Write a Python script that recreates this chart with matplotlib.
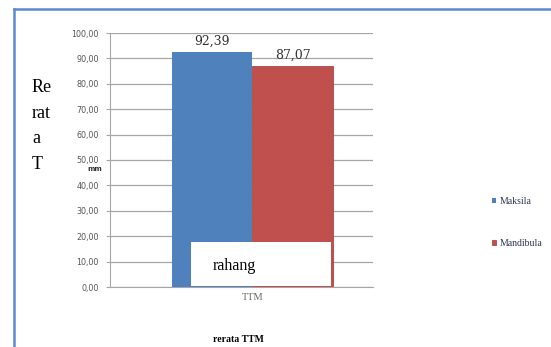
import matplotlib
matplotlib.use("Agg")
import matplotlib.pyplot as plt
from matplotlib.lines import Line2D
from matplotlib.patches import Rectangle

# Data
categories = ["TTM"]
series_names = ["Maksila", "Mandibula"]
maksila = [92.39]
mandibula = [87.07]
value_labels = ["92,39", "87,07"]
yticks = [0, 10, 20, 30, 40, 50, 60, 70, 80, 90, 100]
ytick_labels = ["0,00", "10,00", "20,00", "30,00", "40,00", "50,00",
                "60,00", "70,00", "80,00", "90,00", "100,00"]
side_word = ["Re", "rat", "a", "T"]

blue = "#4F81BD"
red = "#C0504D"
grid_c = "#a6a6a6"

W, H = 551, 347
fig = plt.figure(figsize=(W / 100, H / 100), dpi=100)
fig.patch.set_facecolor("white")

# plot area: x 110..373 px, y 287 (0) .. 33 (100)
ax = fig.add_axes([110 / W, 1 - 287 / H, 263 / W, 254 / H])
ax.set_facecolor("white")

width = 0.4
x = list(range(len(categories)))
b1 = ax.bar([xi - width / 2 for xi in x], maksila, width, color=blue,
            label=series_names[0], zorder=3)
b2 = ax.bar([xi + width / 2 for xi in x], mandibula, width, color=red,
            edgecolor="#b04440", linewidth=0.6, label=series_names[1], zorder=3)

for bars, lab in zip((b1, b2), value_labels):
    for r in bars:
        ax.annotate(lab, (r.get_x() + r.get_width() / 2, r.get_height()),
                    xytext=(0, 3), textcoords="offset points",
                    ha="center", va="bottom", fontsize=9,
                    family="DejaVu Serif", color="#333333")

ax.set_ylim(0, 100)
px_per_unit = 80.5 / width
ax.set_xlim(-142.5 / px_per_unit, 120.5 / px_per_unit)

ax.set_yticks(yticks)
ax.set_yticklabels(ytick_labels, fontsize=5.8, color="#555555")
ax.set_xticks(x)
ax.set_xticklabels(categories, fontsize=7.5, family="Liberation Serif",
                   color="#666666")
ax.tick_params(axis="x", length=0, pad=4)
ax.tick_params(axis="y", length=3, color=grid_c, pad=5)
ax.yaxis.grid(True, color=grid_c, linewidth=0.9, zorder=0)
ax.set_axisbelow(True)
for s in ("top", "right"):
    ax.spines[s].set_visible(False)
ax.spines["left"].set_color(grid_c)
ax.spines["bottom"].set_color(grid_c)

ax.set_ylabel("mm", rotation=0, fontsize=5, fontweight="bold", color="#333333")
ax.yaxis.set_label_coords(-0.057, 0.453)

# white caption box over the lower part of the bars
box = Rectangle((191 / W, 1 - 286 / H), (331 - 191) / W, (286 - 242) / H,
                transform=fig.transFigure, facecolor="white",
                edgecolor="none", zorder=5)
fig.patches.append(box)
fig.text(213 / W, 1 - 266 / H, "rahang", fontsize=11.5,
         family="Liberation Serif", va="center", ha="left", zorder=6)

# vertical side label
for txt, yc in zip(side_word, (88, 114, 139, 164)):
    fig.text(32 / W, 1 - yc / H, txt, fontsize=13, family="Liberation Serif",
             va="center", ha="left")

fig.text(238 / W, 1 - 339 / H, "rerata TTM", fontsize=7,
         family="Liberation Serif", fontweight="bold", ha="center",
         va="center")

leg = fig.legend(handles=[b1, b2], labels=series_names, loc="center left",
                 bbox_to_anchor=(492 / W, 1 - 222.5 / H), frameon=False,
                 handlelength=0.45, handleheight=0.45,
                 handletextpad=0.3, labelspacing=3.4, borderpad=0,
                 borderaxespad=0,
                 prop={"family": "Liberation Serif", "size": 7})
for t in leg.get_texts():
    t.set_color("#2a3550")

# outer frame
fig.add_artist(Line2D([14 / W, 14 / W], [0, 1 - 9 / H], color="#5a8ad0",
                      linewidth=1.8, transform=fig.transFigure))
fig.add_artist(Line2D([14 / W, 1], [1 - 9 / H, 1 - 9 / H], color="#5a8ad0",
                      linewidth=1.8, transform=fig.transFigure))

fig.savefig("out.png", dpi=100, facecolor="white")
